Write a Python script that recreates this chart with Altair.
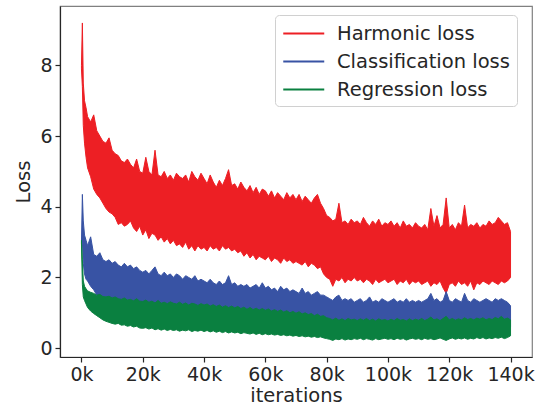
import altair as alt
import pandas as pd

# iterations (in thousands)
iters = [0, 0.3, 0.6, 1, 1.5, 2, 3, 4, 5, 6, 7, 8, 9] + list(range(10, 141))

harm_hi = [8.0, 9.2, 7.5, 7.0, 6.8, 6.55, 6.4, 6.6, 6.15, 6.0, 5.85, 5.8, 5.95,
           5.6, 5.5, 5.45, 5.3, 5.25, 5.35, 5.2, 5.1, 5.35, 5.0,
           4.95, 5.4, 5.0, 4.9, 5.6, 4.9, 4.85, 5.0, 4.8, 4.9,
           4.75, 4.95, 4.85, 4.8, 4.9, 4.7, 5.0, 4.85, 4.75, 4.95,
           4.8, 4.65, 4.9, 4.7, 4.55, 4.75, 4.6, 4.8, 5.05, 4.6,
           4.65, 4.5, 4.7, 4.55, 4.45, 4.6, 4.4, 4.55, 4.35, 4.5,
           4.45, 4.3, 4.45, 4.25, 4.4, 4.3, 4.2, 4.4, 4.25, 4.35,
           4.2, 4.35, 4.15, 4.3, 4.2, 4.1, 4.25, 4.35, 4.1, 3.95,
           3.75, 3.7, 3.6, 3.65, 4.1, 3.55, 3.6, 3.5, 3.65, 3.55,
           3.6, 3.5, 3.7, 3.55, 3.45, 3.6, 3.5, 3.65, 3.45, 3.55,
           3.5, 3.6, 3.45, 3.55, 3.4, 3.6, 3.45, 3.5, 3.4, 3.55,
           3.45, 3.4, 3.5, 3.35, 3.95, 3.45, 3.75, 3.4, 3.5, 4.25,
           3.4, 3.5, 3.35, 3.55, 3.45, 4.05, 3.4, 3.5, 3.45, 3.55,
           3.4, 3.5, 3.45, 3.6, 3.5, 3.55, 3.7, 3.6, 3.5, 3.55,
           3.3]
harm_lo = [7.9, 7.4, 6.3, 5.8, 5.4, 5.1, 4.85, 4.5, 4.35, 4.25, 4.1, 3.95, 3.85,
           3.8, 3.7, 3.5, 3.55, 3.45, 3.5, 3.6, 3.4, 3.3, 3.45,
           3.2, 3.35, 3.1, 3.25, 3.2, 3.05, 3.15, 3.0, 3.1, 2.95,
           3.05, 2.9, 2.95, 2.85, 3.0, 2.8, 2.9, 2.75, 2.9, 2.8,
           2.85, 2.75, 2.9, 2.8, 2.85, 2.75, 2.9, 2.8, 2.85, 2.75,
           2.8, 2.7, 2.75, 2.6, 2.7, 2.55, 2.65, 2.5, 2.6, 2.55,
           2.5, 2.6, 2.45, 2.55, 2.5, 2.4, 2.55, 2.45, 2.5, 2.4,
           2.45, 2.4, 2.35, 2.45, 2.3, 2.4, 2.35, 2.25, 2.3, 2.1,
           2.0, 1.95, 1.75, 1.95, 1.9, 2.0, 1.85, 1.95, 1.9, 2.0,
           1.9, 1.95, 1.85, 1.95, 1.9, 1.8, 1.95, 1.85, 1.9, 1.95,
           1.85, 1.9, 1.95, 1.8, 1.9, 1.85, 1.95, 1.8, 1.9, 1.85,
           1.9, 1.8, 1.85, 1.9, 1.75, 1.85, 1.8, 1.9, 1.7, 1.55,
           1.8, 1.85, 1.75, 1.9, 1.8, 1.85, 1.75, 1.9, 1.65, 1.85,
           1.8, 1.9, 1.85, 1.8, 1.9, 1.85, 1.8, 1.9, 1.85, 1.9,
           2.0]

cls_hi = [3.0, 4.35, 3.6, 3.2, 3.05, 2.9, 3.15, 2.65, 2.6, 2.7, 2.5, 2.45, 2.5,
          2.4, 2.45, 2.35, 2.3, 2.4, 2.3, 2.35, 2.25, 2.3, 2.2,
          2.15, 2.2, 2.1, 2.2, 2.3, 2.1, 2.05, 2.15, 2.05, 2.1,
          2.0, 2.1, 2.05, 1.95, 2.05, 2.0, 1.95, 2.05, 1.9, 1.95,
          1.9, 1.85, 1.95, 1.85, 1.8, 1.9, 1.8, 1.85, 2.05, 1.8,
          1.85, 1.75, 1.8, 1.75, 1.8, 1.7, 1.75, 1.8, 1.7, 1.85,
          1.7, 1.75, 1.65, 1.7, 1.6, 1.75, 1.65, 1.7, 1.6, 1.65,
          1.6, 1.55, 1.7, 1.55, 1.6, 1.5, 1.55, 1.6, 1.5, 1.5,
          1.45, 1.4, 1.35, 1.45, 1.5, 1.35, 1.4, 1.35, 1.4, 1.3,
          1.35, 1.4, 1.3, 1.35, 1.45, 1.3, 1.35, 1.3, 1.4, 1.35,
          1.3, 1.35, 1.4, 1.3, 1.35, 1.3, 1.4, 1.3, 1.35, 1.3,
          1.35, 1.3, 1.35, 1.4, 1.55, 1.35, 1.4, 1.3, 1.35, 1.6,
          1.35, 1.3, 1.4, 1.35, 1.3, 1.55, 1.35, 1.3, 1.4, 1.35,
          1.3, 1.35, 1.4, 1.35, 1.3, 1.4, 1.35, 1.4, 1.35, 1.3,
          1.2]
cls_lo = [2.95, 3.0, 2.4, 2.1, 1.95, 1.9, 1.75, 1.65, 1.5, 1.45, 1.4, 1.35, 1.35,
          1.2, 1.2, 1.15, 1.15, 1.15, 1.12, 1.12, 1.1, 1.1, 1.08,
          1.07, 1.06, 1.05, 1.04, 1.03, 1.02, 1.02, 1.01, 1.0, 1.0,
          0.99, 0.99, 0.98, 0.98, 0.97, 0.97, 0.96, 0.96, 0.95, 0.95,
          0.94, 0.93, 0.92, 0.92, 0.91, 0.9, 0.9, 0.89, 0.88, 0.88,
          0.87, 0.86, 0.86, 0.85, 0.84, 0.84, 0.83, 0.82, 0.82, 0.81,
          0.8, 0.8, 0.79, 0.78, 0.78, 0.77, 0.76, 0.76, 0.75, 0.74,
          0.74, 0.73, 0.72, 0.72, 0.71, 0.7, 0.69, 0.68, 0.67, 0.66,
          0.62, 0.6, 0.6, 0.6, 0.6, 0.6, 0.6, 0.6, 0.6, 0.6,
          0.6, 0.6, 0.6, 0.6, 0.6, 0.6, 0.6, 0.6, 0.6, 0.6,
          0.6, 0.6, 0.6, 0.6, 0.6, 0.6, 0.6, 0.6, 0.6, 0.6,
          0.6, 0.6, 0.6, 0.6, 0.6, 0.6, 0.6, 0.6, 0.6, 0.6,
          0.6, 0.6, 0.6, 0.6, 0.6, 0.6, 0.6, 0.6, 0.6, 0.6,
          0.6, 0.6, 0.6, 0.6, 0.6, 0.6, 0.6, 0.6, 0.6, 0.6,
          0.6]

reg_hi = [3.05, 2.5, 1.9, 1.75, 1.68, 1.62, 1.58, 1.55, 1.5, 1.52, 1.46, 1.45, 1.47,
          1.42, 1.45, 1.4, 1.38, 1.42, 1.36, 1.38, 1.34, 1.4, 1.33,
          1.32, 1.36, 1.3, 1.33, 1.28, 1.35, 1.27, 1.3, 1.26, 1.31,
          1.27, 1.25, 1.3, 1.24, 1.28, 1.22, 1.27, 1.25, 1.21, 1.26,
          1.22, 1.25, 1.19, 1.23, 1.18, 1.22, 1.16, 1.2, 1.15, 1.19,
          1.14, 1.18, 1.12, 1.16, 1.1, 1.15, 1.09, 1.13, 1.08, 1.12,
          1.07, 1.11, 1.05, 1.09, 1.04, 1.08, 1.02, 1.06, 1.0, 1.04,
          0.99, 1.03, 0.97, 1.0, 0.95, 0.98, 0.92, 0.96, 0.9, 0.92,
          0.86, 0.84, 0.8, 0.85, 0.79, 0.83, 0.78, 0.84, 0.8, 0.82,
          0.78, 0.83, 0.79, 0.84, 0.78, 0.82, 0.77, 0.83, 0.79, 0.81,
          0.77, 0.82, 0.78, 0.84, 0.79, 0.81, 0.77, 0.83, 0.78, 0.82,
          0.79, 0.84, 0.78, 0.82, 0.88, 0.8, 0.83, 0.78, 0.84, 0.9,
          0.8, 0.84, 0.79, 0.83, 0.8, 0.86, 0.81, 0.84, 0.8, 0.85,
          0.82, 0.86, 0.8, 0.84, 0.81, 0.87, 0.83, 0.9, 0.82, 0.85,
          0.8]
reg_lo = [2.95, 1.8, 1.45, 1.35, 1.25, 1.15, 1.05, 0.98, 0.92, 0.86, 0.8, 0.76, 0.73,
          0.7, 0.68, 0.7, 0.65, 0.66, 0.62, 0.64, 0.6, 0.62, 0.57,
          0.56, 0.58, 0.54, 0.57, 0.52, 0.55, 0.51, 0.54, 0.5, 0.53,
          0.5, 0.52, 0.48, 0.51, 0.49, 0.52, 0.47, 0.5, 0.48, 0.51,
          0.47, 0.5, 0.46, 0.49, 0.45, 0.48, 0.44, 0.47, 0.43, 0.46,
          0.43, 0.45, 0.41, 0.44, 0.42, 0.4, 0.43, 0.39, 0.42, 0.38,
          0.41, 0.38, 0.4, 0.37, 0.39, 0.36, 0.38, 0.35, 0.37, 0.34,
          0.36, 0.33, 0.35, 0.32, 0.34, 0.31, 0.33, 0.3, 0.32, 0.29,
          0.27, 0.25, 0.22, 0.26, 0.24, 0.27, 0.23, 0.26, 0.24, 0.27,
          0.25, 0.28, 0.24, 0.27, 0.25, 0.23, 0.27, 0.24, 0.26, 0.28,
          0.25, 0.27, 0.24, 0.28, 0.25, 0.27, 0.23, 0.26, 0.28, 0.25,
          0.27, 0.24, 0.28, 0.25, 0.27, 0.24, 0.26, 0.29, 0.25, 0.22,
          0.26, 0.29, 0.25, 0.28, 0.26, 0.29, 0.25, 0.28, 0.26, 0.3,
          0.27, 0.3, 0.26, 0.29, 0.27, 0.3, 0.28, 0.31, 0.27, 0.3,
          0.35]

series_names = ["Harmonic loss", "Classification loss", "Regression loss"]
series_colors = ["#ED1F24", "#3853A4", "#0A8040"]
x_ticks = [0, 20, 40, 60, 80, 100, 120, 140]
y_ticks = [0, 2, 4, 6, 8]

bands = [(harm_lo, harm_hi), (cls_lo, cls_hi), (reg_lo, reg_hi)]
rows = []
for name, (lo, hi) in zip(series_names, bands):
    for it, a, b in zip(iters, lo, hi):
        rows.append({"it": it, "lo": a, "hi": b, "series": name})
df = pd.DataFrame(rows)

FONT = "DejaVu Sans"
color = alt.Color(
    "series:N",
    scale=alt.Scale(domain=series_names, range=series_colors),
    legend=alt.Legend(
        title=None, orient="none", legendX=215, legendY=9,
        symbolType="M-1,0H3", symbolSize=420, symbolStrokeWidth=2,
        labelFontSize=19.5, labelFont=FONT, labelColor="#262626", labelLimit=400,
        fillColor="white", strokeColor="#d0d0d0", cornerRadius=4,
        padding=7, rowPadding=7, labelOffset=32,
    ),
)

xenc = alt.X(
    "it:Q",
    scale=alt.Scale(domain=[-7, 147], nice=False, zero=False),
    axis=alt.Axis(values=x_ticks, labelExpr="datum.value + 'k'", title="iterations"),
)
yenc = alt.Y(
    "hi:Q",
    scale=alt.Scale(domain=[-0.25, 9.68], nice=False, zero=False),
    axis=alt.Axis(values=y_ticks, title="Loss"),
)

layers = []
for name in series_names:
    layers.append(
        alt.Chart(df)
        .transform_filter(alt.datum.series == name)
        .mark_area(strokeWidth=1, opacity=1, fillOpacity=1)
        .encode(x=xenc, y=yenc, y2="lo:Q", color=color, stroke=color)
    )

chart = (
    alt.layer(*layers)
    .properties(width=472, height=351,
                padding={"left": 60, "top": 6, "right": 11, "bottom": 56},
                autosize=alt.AutoSizeParams(type="none"))
    .configure_view(stroke="#808080", strokeWidth=1.2)
    .configure_axis(
        grid=False, labelFont=FONT, titleFont=FONT, labelFontSize=19,
        titleFontSize=19.5, titleFontWeight="normal", labelColor="#262626",
        titleColor="#262626", domainColor="#262626", tickColor="#262626",
        tickSize=5, tickWidth=1.2, domainWidth=1.2, labelPadding=3,
    )
    .configure_axisX(titlePadding=2)
    .configure_axisY(titlePadding=6)
)

chart.save("out.html", embed_options={"renderer": "svg", "actions": False})
